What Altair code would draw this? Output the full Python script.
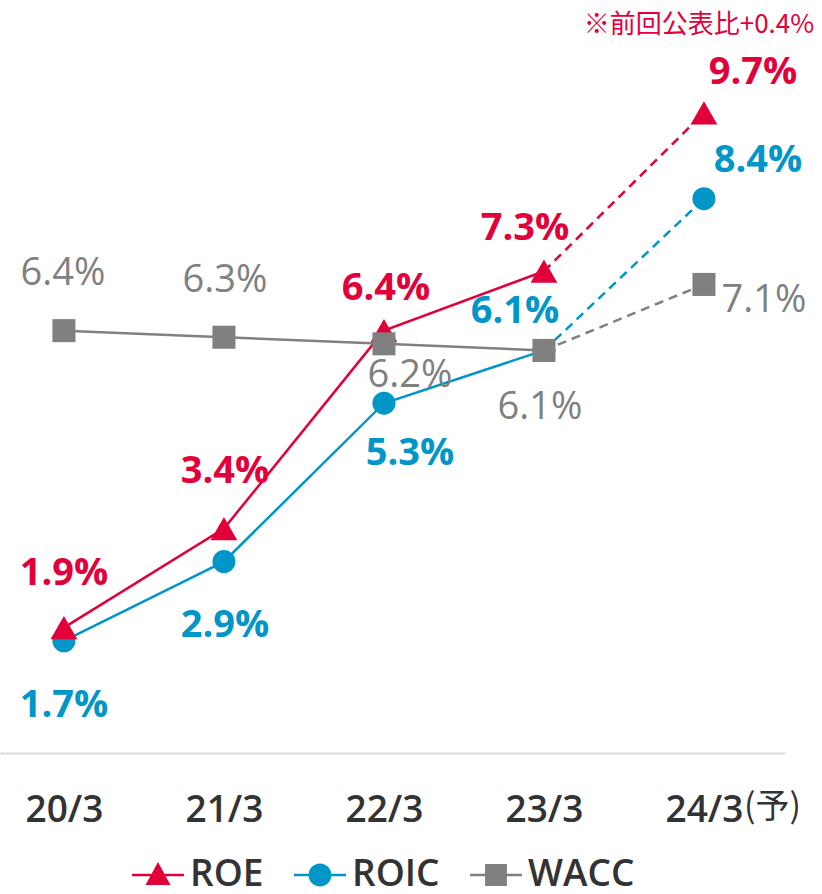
import altair as alt
import pandas as pd

# ---- data ----
categories = ["20/3", "21/3", "22/3", "23/3", "24/3(予)"]
series_names = ["ROE", "ROIC", "WACC"]
roe = [1.9, 3.4, 6.4, 7.3, 9.7]
roic = [1.7, 2.9, 5.3, 6.1, 8.4]
wacc = [6.4, 6.3, 6.2, 6.1, 7.1]
note_text = ["※前回公表比+0.4%"]
forecast_suffix = ["(予)"]

# ---- styles ----
colors = ["#E2003A", "#0096C8", "#808080"]
shapes = ["triangle-up", "circle", "square"]
sizes = [720, 530, 530]
bar = "M-1,-0.048H1V0.048H-1Z"
legend_paths = [
    bar + "M0,-0.5L0.48,0.38L-0.48,0.38Z",
    bar + "M-0.44,0A0.44,0.44,0,1,1,0.44,0A0.44,0.44,0,1,1,-0.44,0Z",
    bar + "M-0.42,-0.42H0.42V0.42H-0.42Z",
]
label_offsets = {
    "ROE": [(0, -54), (1, -57), (2, -42), (-19, -42), (49, -40)],
    "ROIC": [(0, 65), (1, 64), (26, 51), (-29, -38), (54, -38)],
    "WACC": [(-1, -57), (1, -56), (26, 32), (-4, 58), (60, 17)],
}
label_weight = {"ROE": "bold", "ROIC": "bold", "WACC": 500}
FONT = "Open Sans"

rows = []
for name, vals in zip(series_names, [roe, roic, wacc]):
    for i, (c, v) in enumerate(zip(categories, vals)):
        rows.append({"cat": c, "series": name, "value": v, "idx": i,
                     "label": f"{v:.1f}%"})
df = pd.DataFrame(rows)

x = alt.X(
    "cat:N",
    sort=categories,
    scale=alt.Scale(type="point", padding=0.453, align=0.441, domain=categories),
    axis=alt.Axis(
        title=None, domain=True, domainColor="#D9D9D9", domainWidth=2,
        ticks=False, grid=False,
        labelAngle=0, labelFont=FONT, labelFontSize=37, labelFontWeight=600,
        labelColor="#333333", labelPadding=57, labelBaseline="middle",
        labelExpr="datum.label == '24/3(予)' ? '24/3' : datum.label",
    ),
)
y = alt.Y("value:Q", scale=alt.Scale(domain=[0, 11.41], nice=False), axis=None)
color_scale = alt.Scale(domain=series_names, range=colors)

base = alt.Chart(df)
layers = []

# lines: solid for actuals, dashed for the forecast segment
for k, name in enumerate(series_names):
    layers.append(
        base.transform_filter((alt.datum.series == name) & (alt.datum.idx <= 3))
        .mark_line(strokeWidth=2.5, color=colors[k])
        .encode(x=x, y=y)
    )
    layers.append(
        base.transform_filter((alt.datum.series == name) & (alt.datum.idx >= 3))
        .mark_line(strokeWidth=2.5, color=colors[k], strokeDash=[9, 6])
        .encode(x=x, y=y)
    )

# markers: ROIC, ROE, then WACC on top
for k in [1, 0, 2]:
    name = series_names[k]
    layers.append(
        base.transform_filter(alt.datum.series == name)
        .mark_point(filled=True, opacity=1, shape=shapes[k], size=sizes[k],
                    color=colors[k], strokeWidth=0)
        .encode(x=x, y=y)
    )

# value labels
for k, name in enumerate(series_names):
    for i in range(len(categories)):
        dx, dy = label_offsets[name][i]
        layers.append(
            base.transform_filter(
                (alt.datum.series == name) & (alt.datum.idx == i)
            )
            .mark_text(font=FONT, fontSize=38, fontWeight=label_weight[name],
                       color=colors[k], dx=dx, dy=dy, baseline="middle",
                       align="center")
            .encode(x=x, y=y, text="label:N")
        )

# note above forecast ROE
note_df = pd.DataFrame({"cat": [categories[-1]], "value": [roe[-1]],
                        "text": note_text})
layers.append(
    alt.Chart(note_df)
    .mark_text(font="Noto Sans CJK JP", fontSize=26, color=colors[0],
               dx=-5, dy=-88, baseline="middle", align="center")
    .encode(x=x, y=y, text="text:N")
)

# forecast suffix on the x axis
suffix_df = pd.DataFrame({"cat": [categories[-1]], "text": forecast_suffix})
layers.append(
    alt.Chart(suffix_df)
    .mark_text(font="Noto Sans CJK JP", fontSize=34, color="#333333",
               dx=40, align="left", baseline="middle")
    .encode(x=x, y=alt.value(808), text="text:N")
)

# legend (empty data, explicit domains)
leg = alt.Legend(title=None, orient="none", legendX=132, legendY=849,
                 direction="horizontal")
layers.append(
    base.transform_filter("datum.idx < 0")
    .mark_point(filled=True, opacity=1, strokeWidth=0)
    .encode(
        x=x, y=y,
        color=alt.Color("series:N", scale=color_scale, legend=leg),
        shape=alt.Shape("series:N",
                        scale=alt.Scale(domain=series_names, range=legend_paths),
                        legend=leg),
    )
)

chart = (
    alt.layer(*layers)
    .properties(
        width=785, height=753,
        autosize=alt.AutoSizeParams(type="none"),
        padding={"left": 0, "top": 0, "right": 37, "bottom": 141},
    )
    .configure_view(stroke=None)
    .configure_legend(
        symbolSize=2704, symbolStrokeWidth=0, labelFont=FONT,
        labelFontSize=37, labelFontWeight=600, labelColor="#333333",
        labelOffset=6, columnPadding=30, padding=0,
    )
)

chart.save("out.html", embed_options={"renderer": "svg", "actions": False})
